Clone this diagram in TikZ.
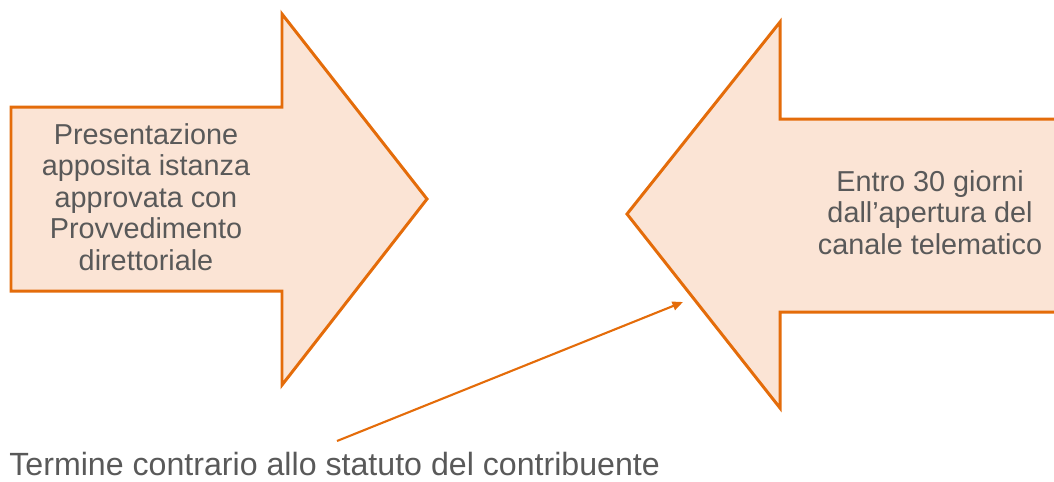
\documentclass[tikz,border=0pt]{standalone}
\usepackage{fontspec}
\setmainfont{Liberation Sans}
\usetikzlibrary{arrows.meta}
\definecolor{arrorange}{HTML}{E46C0A}
\definecolor{arrfill}{HTML}{FBE4D5}
\definecolor{txtgray}{HTML}{595959}

\begin{document}
\begin{tikzpicture}[x=0.02cm, y=-0.02cm,
    bigarrow/.style = {draw=arrorange, fill=arrfill, line width=1.7pt},
    label/.style = {text=txtgray, inner sep=0pt, align=center, font=\fontsize{16.4}{17.9}\selectfont}]
    \useasboundingbox (0,0) rectangle (1054,481);
    \clip (0,0) rectangle (1054,481);

    \draw[bigarrow] (11,107) -- (282,107) -- (282,14) -- (427,199) -- (282,385) -- (282,291) -- (11,291) -- cycle;
    \draw[bigarrow] (627,214) -- (780,22) -- (780,119) -- (1075,119) -- (1075,312) -- (780,312) -- (780,408) -- cycle;

    \node[label, anchor=base] (istanza) at (146,270) {Presentazione\\apposita istanza\\approvata con\\Provvedimento\\direttoriale};
    \node[label, anchor=base] (termine) at (930,254) {Entro 30 giorni\\dall'apertura del\\canale telematico};
    \node[text=txtgray, inner sep=0pt, anchor=base west, font=\fontsize{18.3}{21}\selectfont] (nota) at (9,475) {Termine contrario allo statuto del contribuente};

    \coordinate (notaend) at (337,441);
    \coordinate (freccia) at (683,302);
    \draw[arrorange, line width=1.2pt, -{Triangle[length=6pt,width=5pt]}] (notaend) -- (freccia);
\end{tikzpicture}
\end{document}
